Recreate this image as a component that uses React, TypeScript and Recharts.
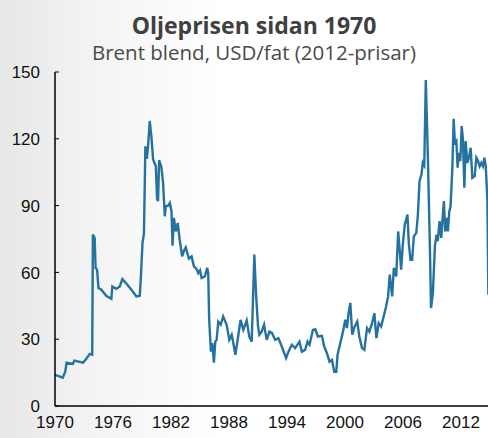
import React from "react";
import { LineChart, Line, XAxis, YAxis } from "recharts";

// Brent blend, USD/fat i 2012-prisar
const years = [
  1970.0, 1970.8, 1971.06, 1971.2, 1971.85, 1972.0, 1972.9, 1973.2, 1973.6, 1973.85,
  1973.92, 1974.1, 1974.2, 1974.35, 1974.5, 1974.8, 1975.3, 1975.83, 1975.93, 1976.35,
  1976.7, 1976.97, 1977.4, 1977.9, 1978.42, 1978.77, 1978.87, 1979.05, 1979.2, 1979.35,
  1979.5, 1979.63, 1979.8, 1979.98, 1980.15, 1980.43, 1980.56, 1980.66, 1980.77, 1981.0,
  1981.18, 1981.36, 1981.46, 1981.7, 1981.88, 1982.05, 1982.16, 1982.3, 1982.5, 1982.7,
  1982.9, 1983.15, 1983.36, 1983.53, 1983.85, 1984.13, 1984.37, 1984.65, 1984.82, 1985.0,
  1985.17, 1985.5, 1985.75, 1985.85, 1985.95, 1986.13, 1986.27, 1986.44, 1986.58, 1986.72,
  1986.89, 1987.14, 1987.4, 1987.76, 1988.03, 1988.28, 1988.45, 1988.66, 1988.97, 1989.2,
  1989.48, 1989.83, 1990.1, 1990.35, 1990.62, 1990.8, 1991.0, 1991.14, 1991.38, 1991.63,
  1991.9, 1992.18, 1992.46, 1992.77, 1993.11, 1993.46, 1993.91, 1994.15, 1994.5, 1994.84,
  1995.29, 1995.54, 1995.88, 1996.12, 1996.33, 1996.68, 1996.92, 1997.2, 1997.61, 1997.85,
  1998.13, 1998.4, 1998.65, 1998.89, 1999.1, 1999.23, 1999.51, 1999.79, 2000.03, 2000.2,
  2000.37, 2000.55, 2000.75, 2001.0, 2001.27, 2001.48, 2001.76, 2002.0, 2002.28, 2002.52,
  2002.8, 2003.04, 2003.25, 2003.49, 2003.74, 2004.0, 2004.25, 2004.46, 2004.63, 2004.88,
  2005.05, 2005.3, 2005.5, 2005.67, 2005.81, 2005.98, 2006.18, 2006.33, 2006.46, 2006.6,
  2006.77, 2006.95, 2007.12, 2007.37, 2007.53, 2007.71, 2007.91, 2008.05, 2008.2, 2008.36,
  2008.58, 2008.78, 2008.9, 2009.09, 2009.3, 2009.47, 2009.6, 2009.78, 2009.96, 2010.09,
  2010.23, 2010.37, 2010.51, 2010.64, 2010.79, 2010.92, 2011.1, 2011.24, 2011.37, 2011.52,
  2011.65, 2011.79, 2011.93, 2012.07, 2012.2, 2012.35, 2012.48, 2012.66, 2012.82, 2013.0,
  2013.17, 2013.41, 2013.59, 2013.76, 2013.93, 2014.1, 2014.27, 2014.42, 2014.56, 2014.73,
  2014.83,
];

const prices = [
  14.0, 12.7, 15.4, 19.5, 18.9, 20.4, 19.5, 21, 23.4, 23,
  77, 75.5, 62, 61.2, 53, 52.2, 49.5, 48.2, 53.7, 52.6,
  53.7, 57, 54.9, 52.2, 49.2, 49.5, 56.7, 73.2, 77.4, 116.7,
  111, 116.7, 128, 120.5, 110.7, 107.7, 93, 92, 110.4, 107.4,
  100.2, 85.2, 89.7, 90, 91.2, 87.5, 72, 84.5, 78.4, 82.2,
  74.7, 67.2, 69.9, 71.2, 66.2, 67.2, 62.7, 61.5, 59.7, 60.9,
  57.5, 58.2, 62, 59.7, 38.7, 24.4, 28.2, 19.5, 28.9, 29.7,
  37.9, 36.5, 40.2, 36.5, 29.7, 32, 28.2, 23, 32, 38.7,
  34.2, 38.4, 31.2, 28.9, 68, 50, 36, 32, 33.4, 36.5,
  29.7, 33.4, 32.7, 29.7, 30.5, 26.7, 21.5, 24.4, 27.5, 26,
  28.9, 24.4, 25.2, 28.9, 27.5, 34.2, 34.5, 31.2, 31.5, 26.7,
  23.7, 19.9, 20.7, 15.4, 15.4, 23, 28.2, 33.4, 38.7, 35,
  41.7, 46.3, 32, 35.7, 37.9, 31.2, 26, 25.2, 35, 33.4,
  37.2, 41.7, 30.5, 37.2, 35.7, 40.2, 44.7, 49.2, 59, 49.2,
  62, 58.2, 78.4, 69.4, 61.2, 72.5, 81.5, 83.7, 86, 73.2,
  65.7, 65.7, 76.2, 77.7, 85.2, 101, 104, 109.2, 108, 146.4,
  110.7, 71.7, 44, 50.7, 71.7, 77, 74, 83, 75.5, 83.7,
  92, 78.4, 84.5, 78.4, 87.4, 89.7, 106.2, 129, 118.2, 119,
  107, 113.7, 110, 125.7, 119.7, 98, 119, 109.2, 111.5, 116,
  102.5, 103.2, 111.5, 110, 107.7, 109.2, 107.7, 111.5, 107.7, 92.7,
  50,
];

const xTicks = [1970, 1976, 1982, 1988, 1994, 2000, 2006, 2012];
const yTicks = [0, 30, 60, 90, 120, 150];

const data = years.map((year, i) => ({ year, price: prices[i] }));

const YTick = ({ x, y, payload }: any) => (
  <g>
    {/* small tick pointing into the plot */}
    <line x1={x + 15} x2={x + 19} y1={y} y2={y} stroke="#000" strokeWidth={1} />
    <text x={x} y={y} dy="0.36em" textAnchor="end" fontSize={17} fill="#111" fontFamily="'Liberation Sans', Arial, sans-serif">
      {payload.value}
    </text>
  </g>
);

export default function App() {
  return (
    <div
      style={{
        position: "absolute",
        left: 0,
        top: 0,
        width: 488,
        height: 438,
        overflow: "hidden",
        background: "linear-gradient(to right, #e7e7e7 0%, #f4f4f4 20%, #ffffff 45%)",
      }}
    >
      <div
        style={{
          position: "absolute",
          left: 0,
          width: 508,
          top: 10,
          textAlign: "center",
          fontFamily: "'Open Sans', sans-serif",
          fontWeight: 700,
          fontSize: 23,
          color: "#404040",
          lineHeight: "30px",
        }}
      >
        Oljeprisen sidan 1970
      </div>
      <div
        style={{
          position: "absolute",
          left: 0,
          width: 508,
          top: 38,
          textAlign: "center",
          fontFamily: "'Open Sans', sans-serif",
          fontSize: 20.5,
          color: "#4a4a4a",
          lineHeight: "28px",
        }}
      >
        Brent blend, USD/fat (2012-prisar)
      </div>

      <LineChart width={490} height={438} data={data} margin={{ top: 72, right: 0, left: 0, bottom: 2 }}>
        <XAxis
          dataKey="year"
          type="number"
          domain={[1970, 2015]}
          ticks={xTicks}
          allowDataOverflow
          height={30}
          tickLine={false}
          tickSize={0}
          tickMargin={10}
          axisLine={{ stroke: "#000", strokeWidth: 1.5 }}
          tick={{ fontSize: 17, fill: "#111", fontFamily: "'Liberation Sans', Arial, sans-serif" }}
        />
        <YAxis
          type="number"
          domain={[0, 150]}
          ticks={yTicks}
          width={55}
          tickLine={false}
          tickSize={0}
          tickMargin={15}
          axisLine={{ stroke: "#000", strokeWidth: 1.5 }}
          tick={<YTick />}
        />
        <Line
          type="linear"
          dataKey="price"
          stroke="#25729f"
          strokeWidth={2.4}
          dot={false}
          isAnimationActive={false}
        />
      </LineChart>
    </div>
  );
}
